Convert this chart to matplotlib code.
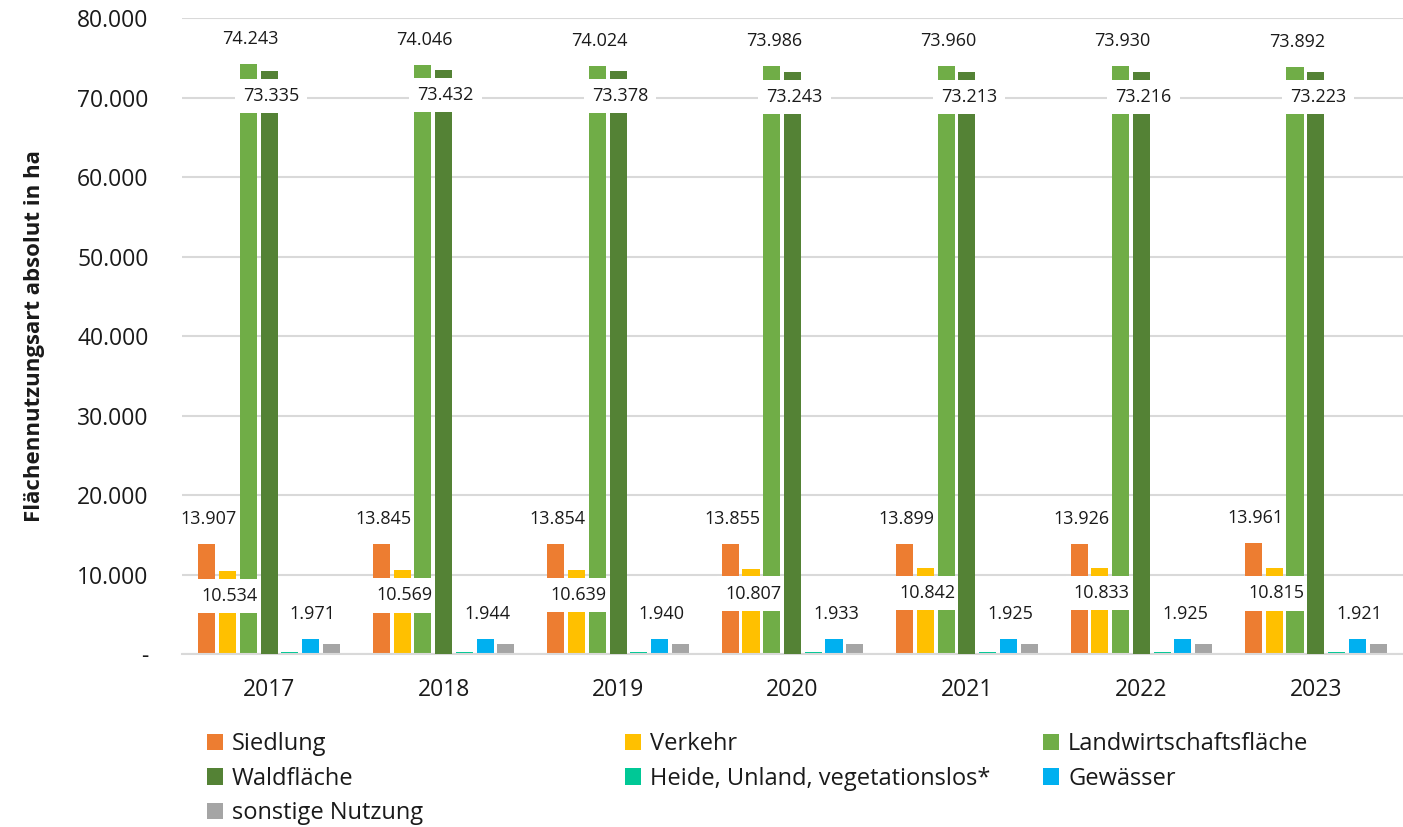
import matplotlib

matplotlib.use("Agg")
import matplotlib.pyplot as plt
import numpy as np
from matplotlib.ticker import FuncFormatter

plt.rcParams["font.family"] = ["Open Sans", "DejaVu Sans"]

years = ["2017", "2018", "2019", "2020", "2021", "2022", "2023"]

siedlung = [13907, 13845, 13854, 13855, 13899, 13926, 13961]
verkehr = [10534, 10569, 10639, 10807, 10842, 10833, 10815]
landwirtschaft = [74243, 74046, 74024, 73986, 73960, 73930, 73892]
wald = [73335, 73432, 73378, 73243, 73213, 73216, 73223]
heide = [320, 320, 320, 320, 320, 320, 320]
gewaesser = [1971, 1944, 1940, 1933, 1925, 1925, 1921]
sonstige = [1350, 1350, 1350, 1350, 1350, 1350, 1350]

names = ["Siedlung", "Verkehr", "Landwirtschaftsfläche", "Waldfläche",
         "Heide, Unland, vegetationslos*", "Gewässer", "sonstige Nutzung"]
values = [siedlung, verkehr, landwirtschaft, wald, heide, gewaesser, sonstige]
colors = ["#ED7D31", "#FFC000", "#70AD47", "#548235", "#00C896", "#00B0F0", "#A5A5A5"]

# label position per series: +1 above bar top, -1 below (boxed), None = no label
label_side = [1, -1, 1, -1, None, 1, None]


def de_thousands(v, _pos=None):
    if v == 0:
        return "-"
    return f"{v:,.0f}".replace(",", ".")


fig = plt.figure(figsize=(14.03, 8.27), dpi=100)
ax = fig.add_axes([0.1297, 0.2086, 0.8703, 0.7696])

x = np.arange(len(years))
pitch = 0.119
width = 0.098

bars = []
for j, (name, vals, color) in enumerate(zip(names, values, colors)):
    z = 2.8 if j == 3 else 2
    b = ax.bar(x + (j - 3) * pitch, vals, width, color=color, label=name, zorder=z)
    bars.append(b)

    side = label_side[j]
    if side is None:
        continue
    for xi, v in zip(x + (j - 3) * pitch, vals):
        kw = {}
        lz = 3
        if side < 0:
            kw["bbox"] = dict(boxstyle="square,pad=0.45", fc="white", ec="none")
            lz = 2.5 if j == 1 else 3
        ax.annotate(de_thousands(v), (xi, v), xytext=(2, 25 * side),
                    textcoords="offset pixels", ha="center", va="center",
                    fontsize=13, color="#1a1a1a", zorder=lz, **kw)

ax.set_xlim(-0.5, len(years) - 0.5)
ax.set_ylim(0, 80000)
ax.set_yticks(np.arange(0, 80001, 10000))
ax.yaxis.set_major_formatter(FuncFormatter(de_thousands))
ax.set_xticks(x)
ax.set_xticklabels(years)

ax.grid(axis="y", color="#D9D9D9", linewidth=1.5, zorder=0)
ax.set_axisbelow(True)
for side in ("top", "right", "left"):
    ax.spines[side].set_visible(False)
ax.spines["bottom"].set_color("#D9D9D9")
ax.spines["bottom"].set_linewidth(1.5)
ax.tick_params(axis="y", length=0, pad=24, labelsize=16.5, labelcolor="#1a1a1a")
ax.tick_params(axis="x", length=0, pad=17, labelsize=16.5, labelcolor="#1a1a1a")

ax.set_ylabel("Flächennutzungsart absolut in ha", fontsize=16, fontweight="bold",
              color="#1a1a1a", labelpad=23)

# legend laid out row by row in three fixed columns
columns = [[0, 3, 6], [1, 4], [2, 5]]
col_x = [0.1475, 0.4455, 0.7434]
for cx, idx in zip(col_x, columns):
    fig.legend([bars[i] for i in idx], [names[i] for i in idx],
               loc="upper left", bbox_to_anchor=(cx, 0.1148), frameon=False,
               fontsize=17, handlelength=0.68, handleheight=0.68,
               handletextpad=0.38, labelspacing=0.45, borderpad=0,
               borderaxespad=0, labelcolor="#1a1a1a")

fig.savefig("out.png", dpi=100)
